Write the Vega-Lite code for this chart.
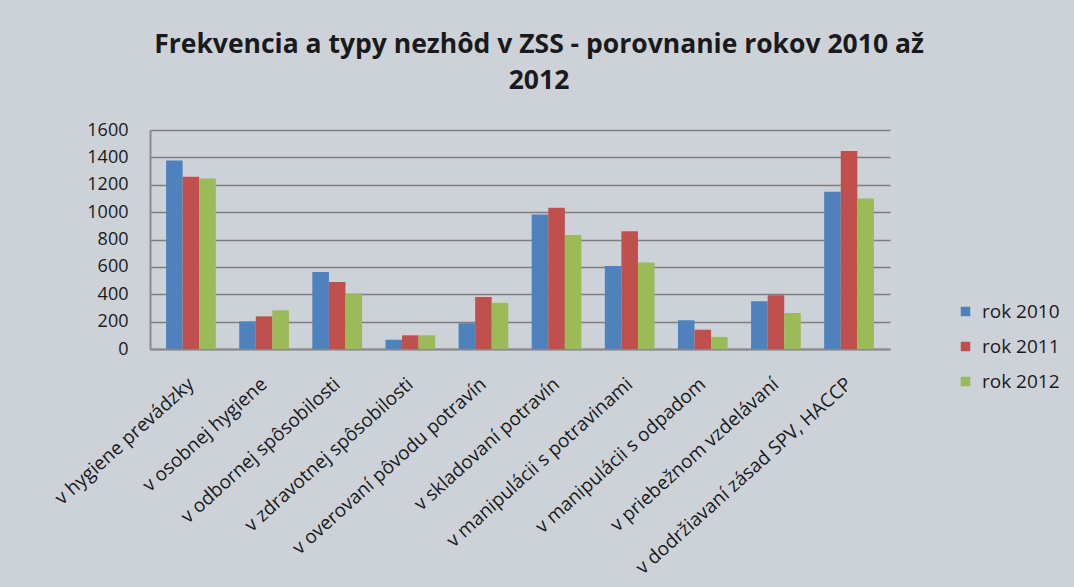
{
  "$schema": "https://vega.github.io/schema/vega-lite/v6.json",
  "width": 740,
  "height": 219,
  "padding": {"left": 51, "top": 31, "right": 60, "bottom": 80},
  "background": "#cdd2d9",
  "title": {
    "text": ["Frekvencia a typy nezhôd v ZSS - porovnanie rokov 2010 až", "2012"],
    "font": "Open Sans",
    "fontSize": 26.5,
    "fontWeight": "bold",
    "lineHeight": 36,
    "color": "#1a1a1a",
    "anchor": "middle",
    "offset": 27,
    "dx": 19
  },
  "data": {
    "values": [
      {"kategoria": "v hygiene prevádzky", "rok": "rok 2010", "pocet": 1378},
      {"kategoria": "v hygiene prevádzky", "rok": "rok 2011", "pocet": 1258},
      {"kategoria": "v hygiene prevádzky", "rok": "rok 2012", "pocet": 1246},
      {"kategoria": "v osobnej hygiene", "rok": "rok 2010", "pocet": 202},
      {"kategoria": "v osobnej hygiene", "rok": "rok 2011", "pocet": 239},
      {"kategoria": "v osobnej hygiene", "rok": "rok 2012", "pocet": 283},
      {"kategoria": "v odbornej spôsobilosti", "rok": "rok 2010", "pocet": 563},
      {"kategoria": "v odbornej spôsobilosti", "rok": "rok 2011", "pocet": 490},
      {"kategoria": "v odbornej spôsobilosti", "rok": "rok 2012", "pocet": 405},
      {"kategoria": "v zdravotnej spôsobilosti", "rok": "rok 2010", "pocet": 68},
      {"kategoria": "v zdravotnej spôsobilosti", "rok": "rok 2011", "pocet": 100},
      {"kategoria": "v zdravotnej spôsobilosti", "rok": "rok 2012", "pocet": 100},
      {"kategoria": "v overovaní pôvodu potravín", "rok": "rok 2010", "pocet": 188},
      {"kategoria": "v overovaní pôvodu potravín", "rok": "rok 2011", "pocet": 380},
      {"kategoria": "v overovaní pôvodu potravín", "rok": "rok 2012", "pocet": 337},
      {"kategoria": "v skladovaní potravín", "rok": "rok 2010", "pocet": 983},
      {"kategoria": "v skladovaní potravín", "rok": "rok 2011", "pocet": 1032},
      {"kategoria": "v skladovaní potravín", "rok": "rok 2012", "pocet": 832},
      {"kategoria": "v manipulácii s potravinami", "rok": "rok 2010", "pocet": 607},
      {"kategoria": "v manipulácii s potravinami", "rok": "rok 2011", "pocet": 861},
      {"kategoria": "v manipulácii s potravinami", "rok": "rok 2012", "pocet": 632},
      {"kategoria": "v manipulácii s odpadom", "rok": "rok 2010", "pocet": 210},
      {"kategoria": "v manipulácii s odpadom", "rok": "rok 2011", "pocet": 141},
      {"kategoria": "v manipulácii s odpadom", "rok": "rok 2012", "pocet": 88},
      {"kategoria": "v priebežnom vzdelávaní", "rok": "rok 2010", "pocet": 349},
      {"kategoria": "v priebežnom vzdelávaní", "rok": "rok 2011", "pocet": 393},
      {"kategoria": "v priebežnom vzdelávaní", "rok": "rok 2012", "pocet": 263},
      {"kategoria": "v dodržiavaní zásad SPV, HACCP", "rok": "rok 2010", "pocet": 1149},
      {"kategoria": "v dodržiavaní zásad SPV, HACCP", "rok": "rok 2011", "pocet": 1446},
      {"kategoria": "v dodržiavaní zásad SPV, HACCP", "rok": "rok 2012", "pocet": 1100}
    ]
  },
  "mark": {"type": "bar", "stroke": null},
  "encoding": {
    "x": {
      "field": "kategoria",
      "type": "nominal",
      "sort": null,
      "scale": {"paddingInner": 0.32, "paddingOuter": 0.22},
      "axis": {
        "title": null,
        "labelAngle": -42,
        "labelAlign": "right",
        "labelBaseline": "middle",
        "labelPadding": 32,
        "labelFont": "Open Sans",
        "labelFontSize": 19,
        "labelColor": "#1a1a1a",
        "labelLimit": 400,
        "ticks": false,
        "domainColor": "#8a8a8a",
        "domainWidth": 2
      }
    },
    "xOffset": {"field": "rok", "type": "nominal", "scale": {"paddingInner": 0, "paddingOuter": 0}},
    "y": {
      "field": "pocet",
      "type": "quantitative",
      "scale": {"domain": [0, 1600], "nice": false},
      "axis": {
        "title": null,
        "format": "d",
        "values": [0, 200, 400, 600, 800, 1000, 1200, 1400, 1600],
        "labelFont": "Open Sans",
        "labelFontSize": 18,
        "labelColor": "#1a1a1a",
        "labelPadding": 22,
        "ticks": false,
        "domainColor": "#8a8a8a",
        "domainWidth": 2,
        "gridColor": "#7f7f7f",
        "gridWidth": 1.6
      }
    },
    "color": {
      "field": "rok",
      "type": "nominal",
      "scale": {"range": ["#4f81bd", "#c0504d", "#9bbb59"]},
      "legend": {
        "title": null,
        "orient": "none",
        "legendX": 806,
        "legendY": 172,
        "symbolType": "square",
        "symbolSize": 90,
        "symbolStrokeWidth": 0,
        "labelFont": "Open Sans",
        "labelFontSize": 19,
        "labelColor": "#1a1a1a",
        "labelOffset": 7,
        "rowPadding": 15
      }
    }
  },
  "config": {
    "view": {"stroke": null}
  }
}
